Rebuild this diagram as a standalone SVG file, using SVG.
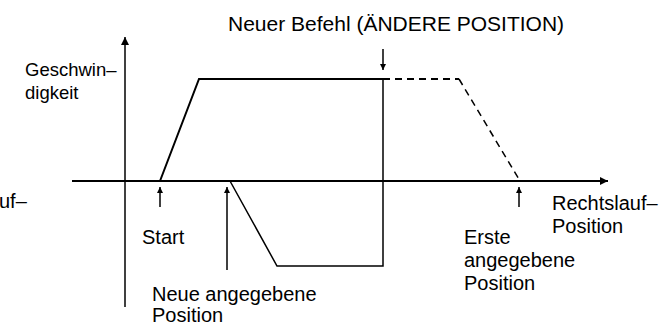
<svg xmlns="http://www.w3.org/2000/svg" width="670" height="327" viewBox="0 0 670 327">
<style>
text{font-family:"Liberation Sans",Arial,sans-serif;font-size:20px;fill:#000}
.ax{stroke:#000;fill:none}
.pr{stroke:#000;fill:none;stroke-width:2}
.thin{stroke:#000;fill:none;stroke-width:1.5}
.dash{stroke-dasharray:7 5}
.mk{stroke:#000;stroke-width:1.5;fill:none}
</style>
<defs>
<marker id="ah" viewBox="0 0 10 10" refX="10" refY="5" markerWidth="10" markerHeight="8" markerUnits="userSpaceOnUse" orient="auto">
<path d="M0,0 L10,5 L0,10 Z" fill="#000"/>
</marker>
<marker id="sh" viewBox="0 0 10 10" refX="10" refY="5" markerWidth="9" markerHeight="6" markerUnits="userSpaceOnUse" orient="auto">
<path d="M0,0 L10,5 L0,10 Z" fill="#000"/>
</marker>
</defs>
<g id="connectors">
<line class="ax" x1="125" y1="307" x2="125" y2="37" stroke-width="1.5" marker-end="url(#ah)"/>
<line class="ax" x1="72" y1="181" x2="608" y2="181" stroke-width="2.2" marker-end="url(#ah)"/>
<polyline class="pr" points="160,181 199,79 383,79"/>
<polyline class="thin" points="383,79 383,266 277,266 230,181"/>
<polyline class="pr dash" points="383,79 459,79"/>
<line class="thin dash" x1="459" y1="79" x2="520" y2="181" stroke-dasharray="6 5"/>
<line class="mk" x1="160" y1="207" x2="160" y2="187" marker-end="url(#sh)"/>
<line class="mk" x1="519" y1="207" x2="519" y2="187" marker-end="url(#sh)"/>
<line class="mk" x1="227" y1="270" x2="227" y2="187" stroke="#333" marker-end="url(#sh)"/>
<line class="mk" x1="383" y1="49" x2="383" y2="70" marker-end="url(#sh)"/>
</g>
<g id="title"><text x="228" y="31" style="font-size:21px">Neuer Befehl (ÄNDERE POSITION)</text></g>
<g id="y-label"><text x="25" y="76" style="font-size:18.5px">Geschwin–</text><text x="25" y="99" style="font-size:18.5px">digkeit</text></g>
<g id="left-label"><text x="-1" y="208">uf–</text></g>
<g id="start-label"><text x="142" y="244">Start</text></g>
<g id="neue-label"><text x="152" y="301">Neue angegebene</text><text x="152" y="322">Position</text></g>
<g id="erste-label"><text x="464" y="244">Erste</text><text x="464" y="267">angegebene</text><text x="464" y="290">Position</text></g>
<g id="x-label"><text x="552" y="210">Rechtslauf–</text><text x="552" y="233">Position</text></g>
</svg>
